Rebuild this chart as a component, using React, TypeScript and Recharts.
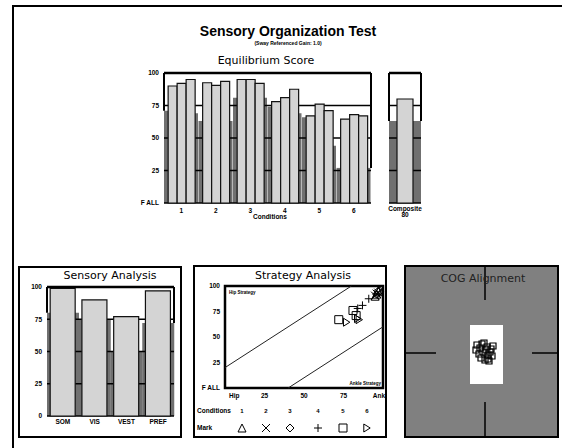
import React from 'react';
import {
  BarChart,
  Bar,
  XAxis,
  YAxis,
  CartesianGrid,
  ReferenceLine,
  ReferenceArea,
  ScatterChart,
  Scatter,
} from 'recharts';

// ---------- data ----------
const conditions = ['1', '2', '3', '4', '5', '6'];
const trial1 = [90, 92.5, 95, 78, 67, 64.5];
const trial2 = [92, 90.5, 95, 81, 76, 68];
const trial3 = [95, 93.5, 92, 87.5, 71, 67];
const normLeft = [71, 63, 81, 74, 66, 27];
const normRight = [69, 63, 81, 69, 44, 27];

const compositeCats = ['Composite'];
const compositeScore = [80];
const compositeNorm = [63];

const scoreTicks = [0, 25, 50, 75, 100];

const sensoryCats = ['SOM', 'VIS', 'VEST', 'PREF'];
const sensoryScores = [99, 90, 77, 97];
const sensoryNorm = [80, 75, 50, 72];

const strategyTicks = [0, 25, 50, 75, 100];
const stratT1 = [95, 96, 97, 84, 72, 77];
const stratT2 = [96, 95, 98, 87, 81, 84];
const stratT3 = [97, 97, 96, 91, 83, 85];
const markKinds = ['triangle', 'x', 'diamond', 'plus', 'square', 'rtri'];

const cogX = [-8, -5, -3, 2, 6, 8, -6, -2, 3, 5, -4, 0, 4, -9, 1, 7, -1, 3];
const cogY = [8, 5, 9, 6, 4, 7, -1, 1, -2, 1, -5, -7, -8, 3, 3, -3, 10, -6];

// ---------- styles ----------
const DARK = '#707070';
const LIGHT = '#d4d4d4';
const COGBG = '#808080';
const tinyFont = '"Liberation Sans", Arial, sans-serif';
const titleFont = '"DejaVu Sans", Verdana, sans-serif';
const tickStyle = { fontSize: 6.5, fontWeight: 700, fill: '#000', fontFamily: tinyFont };

const mainData = conditions.map((c, i) => ({
  cond: c,
  t1: trial1[i],
  t2: trial2[i],
  t3: trial3[i],
  nl: normLeft[i],
  nr: normRight[i],
}));
const compData = compositeCats.map((c, i) => ({ name: c, v: compositeScore[i], n: compositeNorm[i] }));
const sensData = sensoryCats.map((c, i) => ({ name: c, v: sensoryScores[i], n: sensoryNorm[i] }));
const stratData = conditions.map((c, i) => [
  { x: stratT1[i], y: trial1[i] },
  { x: stratT2[i], y: trial2[i] },
  { x: stratT3[i], y: trial3[i] },
]);
const cogData = cogX.map((x, i) => ({ x, y: cogY[i] }));

const fmtFall = (v: number) => (v === 0 ? 'F ALL' : String(v));

function markPath(kind: string, cx: number, cy: number, s: number) {
  const h = s / 2;
  switch (kind) {
    case 'triangle':
      return `M${cx},${cy - h} L${cx + h},${cy + h} L${cx - h},${cy + h} Z`;
    case 'x':
      return `M${cx - h},${cy - h} L${cx + h},${cy + h} M${cx + h},${cy - h} L${cx - h},${cy + h}`;
    case 'diamond':
      return `M${cx},${cy - h} L${cx + h},${cy} L${cx},${cy + h} L${cx - h},${cy} Z`;
    case 'plus':
      return `M${cx},${cy - h} L${cx},${cy + h} M${cx - h},${cy} L${cx + h},${cy}`;
    case 'square':
      return `M${cx - h},${cy - h} L${cx + h},${cy - h} L${cx + h},${cy + h} L${cx - h},${cy + h} Z`;
    default:
      return `M${cx - h * 0.8},${cy - h} L${cx + h * 0.8},${cy} L${cx - h * 0.8},${cy + h} Z`;
  }
}

const YTick = (props: any) => {
  const { x, y, payload, plain } = props;
  return (
    <text x={x} y={y} dy={2.3} textAnchor="end" style={tickStyle}>
      {plain ? String(payload.value) : fmtFall(payload.value)}
    </text>
  );
};

const CompositeTick = (props: any) => {
  const { x, y, payload, index } = props;
  return (
    <text x={x} y={y} textAnchor="middle" style={tickStyle}>
      <tspan x={x} dy={5}>{payload.value}</tspan>
      <tspan x={x} dy={6}>{compositeScore[index ?? 0]}</tspan>
    </text>
  );
};

const StratXTick = (props: any) => {
  const { x, y, payload } = props;
  const v = payload.value;
  const label = v === 0 ? 'Hip' : v === 100 ? 'Ank' : String(v);
  const anchor = v === 0 ? 'start' : v === 100 ? 'end' : 'middle';
  const tx = v === 0 ? x + 4 : v === 100 ? x + 2 : x;
  return (
    <text x={tx} y={y} dy={5} textAnchor={anchor} style={tickStyle}>
      {label}
    </text>
  );
};

const abs = (l: number, t: number): React.CSSProperties => ({ position: 'absolute', left: l, top: t });

const Title = ({ text, cx, top, size, bold, color }: any) => (
  <div
    style={{
      position: 'absolute',
      left: cx - 120,
      width: 240,
      top,
      textAlign: 'center',
      fontSize: size,
      lineHeight: `${size + 2}px`,
      fontWeight: bold ? 700 : 400,
      fontFamily: bold ? tinyFont : titleFont,
      color: color || '#000',
      whiteSpace: 'nowrap',
    }}
  >
    {text}
  </div>
);

const box = (l: number, t: number, w: number, h: number, bg = 'transparent'): React.CSSProperties => ({
  position: 'absolute',
  left: l,
  top: t,
  width: w,
  height: h,
  border: '2px solid #000',
  boxSizing: 'border-box',
  background: bg,
});

export default function App() {
  return (
    <div
      style={{
        position: 'absolute',
        left: 0,
        top: 0,
        width: 562,
        height: 448,
        background: '#fff',
        overflow: 'hidden',
      }}
    >
      {/* outer frame */}
      <div style={{ position: 'absolute', left: 12, top: 5, width: 620, height: 520, borderLeft: '2px solid #000', borderTop: '2px solid #000' }} />

      <Title text="Sensory Organization Test" cx={288} top={23} size={14} bold />
      <div style={{ ...abs(188, 40), width: 200, textAlign: 'center', fontSize: 5, lineHeight: '6px', fontWeight: 700, fontFamily: tinyFont }}>
        (Sway Referenced Gain: 1.0)
      </div>
      <Title text="Equilibrium Score" cx={266} top={54} size={11} />

      {/* ---------- Equilibrium main: dark normative layer ---------- */}
      <div style={abs(126, 68)}>
        <BarChart width={254} height={160} data={mainData} margin={{ top: 5, right: 9, bottom: 0, left: 0 }} barCategoryGap={0} barGap={0}>
          <XAxis dataKey="cond" height={25} tick={false} axisLine={false} tickLine={false} />
          <YAxis width={38} domain={[0, 100]} ticks={scoreTicks} tick={false} axisLine={false} tickLine={false} />
          <Bar dataKey="nl" fill={DARK} isAnimationActive={false} />
          <Bar dataKey="nr" fill={DARK} isAnimationActive={false} />
        </BarChart>
      </div>
      {/* ---------- Equilibrium main: trials layer ---------- */}
      <div style={abs(126, 68)}>
        <BarChart width={254} height={160} data={mainData} margin={{ top: 5, right: 9, bottom: 0, left: 0 }} barCategoryGap="12%" barGap={0}>
          <CartesianGrid vertical={false} stroke="#000" strokeWidth={1.5} />
          <XAxis dataKey="cond" height={25} interval={0} tick={tickStyle} axisLine={false} tickLine={false} tickSize={3} />
          <YAxis width={38} domain={[0, 100]} ticks={scoreTicks} tick={<YTick />} axisLine={false} tickLine={false} tickSize={3} interval={0} />
          <ReferenceLine y={100} stroke="#000" strokeWidth={2.5} />
          <ReferenceLine segment={[{ x: '1', y: normLeft[0] }, { x: '1', y: 100 }]} position="start" stroke="#000" strokeWidth={2} ifOverflow="visible" />
          <ReferenceLine segment={[{ x: '6', y: normRight[5] }, { x: '6', y: 100 }]} position="end" stroke="#000" strokeWidth={2} ifOverflow="visible" />
          <Bar dataKey="t1" fill={LIGHT} stroke="#111" strokeWidth={1.2} isAnimationActive={false} />
          <Bar dataKey="t2" fill={LIGHT} stroke="#111" strokeWidth={1.2} isAnimationActive={false} />
          <Bar dataKey="t3" fill={LIGHT} stroke="#111" strokeWidth={1.2} isAnimationActive={false} />
        </BarChart>
      </div>
      <div style={{ ...abs(240, 213), width: 60, textAlign: 'center', fontSize: 6.5, lineHeight: '8px', fontWeight: 700, fontFamily: tinyFont }}>
        Conditions
      </div>

      {/* ---------- Composite ---------- */}
      <div style={abs(380, 68)}>
        <BarChart width={45} height={160} data={compData} margin={{ top: 5, right: 4, bottom: 0, left: 9 }} barCategoryGap={0}>
          <XAxis dataKey="name" height={25} tick={false} axisLine={false} tickLine={false} />
          <YAxis hide domain={[0, 100]} ticks={scoreTicks} />
          <Bar dataKey="n" fill={DARK} isAnimationActive={false} />
        </BarChart>
      </div>
      <div style={abs(380, 68)}>
        <BarChart width={45} height={160} data={compData} margin={{ top: 5, right: 4, bottom: 0, left: 9 }} barCategoryGap="25%">
          <CartesianGrid vertical={false} stroke="#000" strokeWidth={1.5} />
          <XAxis dataKey="name" height={25} interval={0} tick={<CompositeTick />} axisLine={false} tickLine={false} tickSize={1} />
          <YAxis hide domain={[0, 100]} ticks={scoreTicks} />
          <ReferenceLine y={100} stroke="#000" strokeWidth={2.5} />
          <ReferenceLine segment={[{ x: 'Composite', y: compositeNorm[0] }, { x: 'Composite', y: 100 }]} position="start" stroke="#000" strokeWidth={2} ifOverflow="visible" />
          <ReferenceLine segment={[{ x: 'Composite', y: compositeNorm[0] }, { x: 'Composite', y: 100 }]} position="end" stroke="#000" strokeWidth={2} ifOverflow="visible" />
          <Bar dataKey="v" fill={LIGHT} stroke="#111" strokeWidth={1.2} isAnimationActive={false} />
        </BarChart>
      </div>

      {/* ---------- Sensory Analysis ---------- */}
      <div style={box(18, 266, 164, 172)} />
      <Title text="Sensory Analysis" cx={110} top={269} size={11} />
      <div style={abs(18, 280)}>
        <BarChart width={162} height={150} data={sensData} margin={{ top: 7, right: 6, bottom: 0, left: 0 }} barCategoryGap={0}>
          <XAxis dataKey="name" height={14} tick={false} axisLine={false} tickLine={false} />
          <YAxis width={29} domain={[0, 100]} ticks={scoreTicks} tick={false} axisLine={false} tickLine={false} />
          <Bar dataKey="n" fill={DARK} isAnimationActive={false} />
        </BarChart>
      </div>
      <div style={abs(18, 280)}>
        <BarChart width={162} height={150} data={sensData} margin={{ top: 7, right: 6, bottom: 0, left: 0 }} barCategoryGap="10%">
          <CartesianGrid vertical={false} stroke="#000" strokeWidth={1.5} />
          <XAxis dataKey="name" height={14} interval={0} tick={tickStyle} axisLine={false} tickLine={false} tickSize={1} />
          <YAxis width={29} domain={[0, 100]} ticks={scoreTicks} tick={<YTick plain />} axisLine={false} tickLine={false} tickSize={3} interval={0} />
          <ReferenceLine y={100} stroke="#000" strokeWidth={2.5} />
          <ReferenceLine segment={[{ x: 'SOM', y: sensoryNorm[0] }, { x: 'SOM', y: 100 }]} position="start" stroke="#000" strokeWidth={2} ifOverflow="visible" />
          <ReferenceLine segment={[{ x: 'PREF', y: sensoryNorm[3] }, { x: 'PREF', y: 100 }]} position="end" stroke="#000" strokeWidth={2} ifOverflow="visible" />
          <Bar dataKey="v" fill={LIGHT} stroke="#111" strokeWidth={1.2} isAnimationActive={false} />
        </BarChart>
      </div>

      {/* ---------- Strategy Analysis ---------- */}
      <div style={box(193, 265, 194, 173)} />
      <Title text="Strategy Analysis" cx={303} top={269} size={11} />
      <div style={abs(193, 280)}>
        <ScatterChart width={200} height={125} margin={{ top: 6, right: 10, bottom: 0, left: 0 }}>
          <XAxis type="number" dataKey="x" domain={[0, 100]} ticks={strategyTicks} interval={0} height={17} tick={<StratXTick />} axisLine={false} tickLine={false} tickSize={3} />
          <YAxis type="number" dataKey="y" domain={[0, 100]} ticks={strategyTicks} interval={0} width={32} tick={<YTick />} axisLine={false} tickLine={false} tickSize={3} />
          <ReferenceLine segment={[{ x: 0, y: 20 }, { x: 80, y: 100 }]} stroke="#222" strokeWidth={1} />
          <ReferenceLine segment={[{ x: 40, y: 0 }, { x: 100, y: 60 }]} stroke="#222" strokeWidth={1} />
          <ReferenceArea x1={0} x2={100} y1={0} y2={100} fill="none" fillOpacity={0} stroke="#000" strokeWidth={2.5} ifOverflow="visible" />
          {stratData.map((pts, i) => (
            <Scatter
              key={i}
              data={pts}
              isAnimationActive={false}
              shape={(p: any) => (
                <path d={markPath(markKinds[i], p.cx, p.cy, 8)} stroke="#000" strokeWidth={1} fill="none" />
              )}
            />
          ))}
        </ScatterChart>
      </div>
      <div style={{ ...abs(229, 290), fontSize: 4.5, lineHeight: '5px', fontWeight: 700, fontFamily: tinyFont }}>Hip Strategy</div>
      <div style={{ ...abs(340, 381), width: 41, textAlign: 'right', fontSize: 4.5, lineHeight: '5px', fontWeight: 700, fontFamily: tinyFont }}>Ankle Strategy</div>
      {/* legend */}
      <svg style={abs(193, 403)} width={194} height={32}>
        <text x={4} y={10} style={tickStyle}>Conditions</text>
        <text x={4} y={27} style={tickStyle}>Mark</text>
        {[49, 73, 97, 125, 150, 174].map((lx, i) => (
          <g key={i}>
            <text x={lx} y={10} textAnchor="middle" style={{ ...tickStyle, fontSize: 6 }}>{conditions[i]}</text>
            <path d={markPath(markKinds[i], lx, 25, 8)} stroke="#000" strokeWidth={1} fill="none" />
          </g>
        ))}
      </svg>

      {/* ---------- COG Alignment ---------- */}
      <div style={box(404, 265, 155, 173, COGBG)} />
      <div style={abs(406, 267)}>
        <ScatterChart width={151} height={169} margin={{ top: 0, right: 0, bottom: 0, left: 0 }}>
          <XAxis type="number" dataKey="x" domain={[-79, 72]} hide />
          <YAxis type="number" dataKey="y" domain={[-83, 86]} hide />
          <ReferenceArea x1={-15} x2={18} y1={-31} y2={28} fill="#fff" fillOpacity={1} stroke="none" />
          <ReferenceLine segment={[{ x: 0, y: 86 }, { x: 0, y: 53 }]} stroke="#000" strokeWidth={1.5} />
          <ReferenceLine segment={[{ x: 0, y: -49 }, { x: 0, y: -83 }]} stroke="#000" strokeWidth={1.5} />
          <ReferenceLine segment={[{ x: -79, y: 0 }, { x: -49, y: 0 }]} stroke="#000" strokeWidth={1.5} />
          <ReferenceLine segment={[{ x: 47, y: 0 }, { x: 72, y: 0 }]} stroke="#000" strokeWidth={1.5} />
          <Scatter
            data={cogData}
            isAnimationActive={false}
            shape={(p: any) => (
              <path d={markPath('square', p.cx, p.cy, 6)} stroke="#000" strokeWidth={1.2} fill="none" />
            )}
          />
        </ScatterChart>
      </div>
      <Title text="COG Alignment" cx={483} top={272} size={11} color="#222" />
    </div>
  );
}
